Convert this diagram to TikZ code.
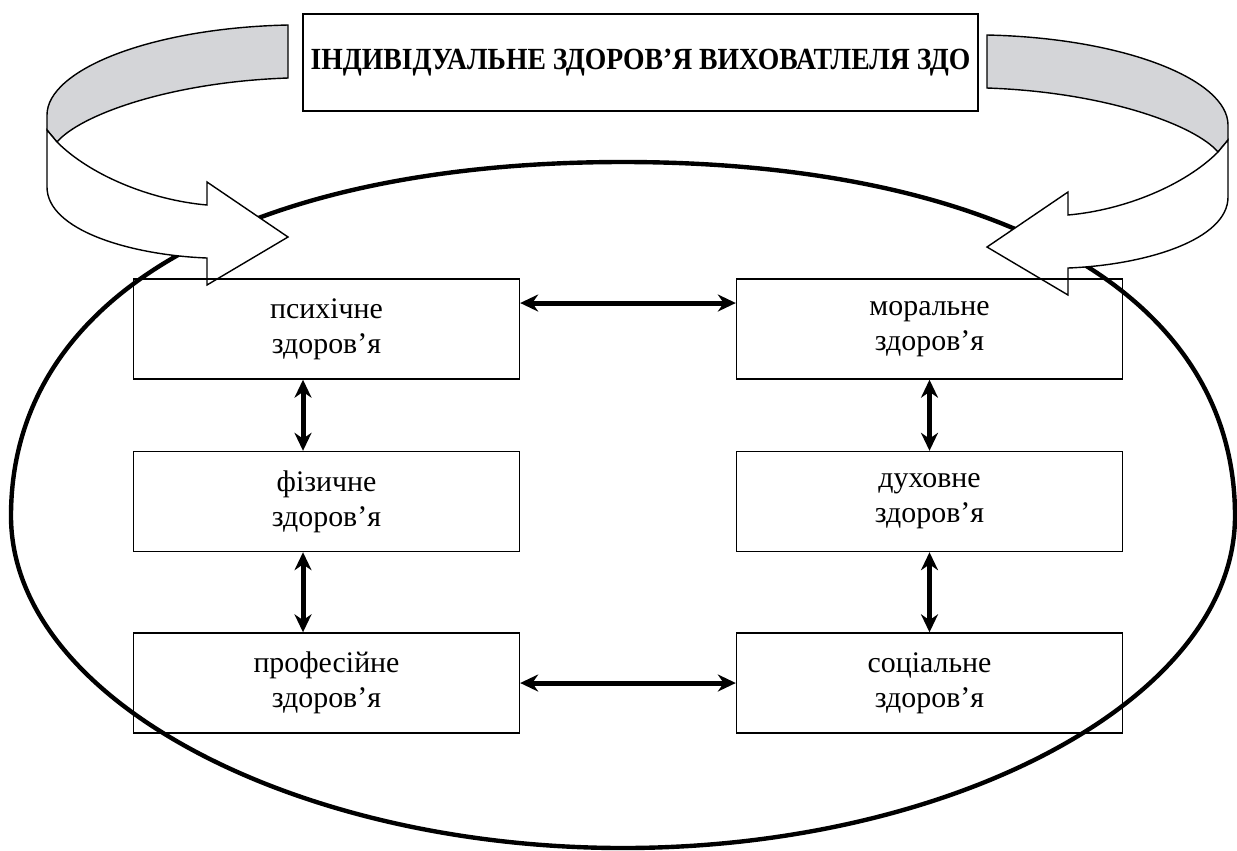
\documentclass[tikz,border=0pt]{standalone}
\usepackage{fontspec}
\setmainfont{Liberation Serif}
\newfontfamily\titlefont[FakeStretch=0.9]{Liberation Serif}
\usetikzlibrary{arrows.meta}
\definecolor{bandgray}{RGB}{212,213,216}
\newcommand{\twist}{%
  \draw[line width=0.8pt, fill=bandgray] (288,25) .. controls (150,28) and (47,70) .. (47,115)
    -- (47,130) -- (57,142) .. controls (80,115) and (170,82) .. (288,78) -- cycle;
  \draw[line width=0.8pt, fill=white] (47,130) -- (47,187) .. controls (47,230) and (130,255) .. (207,258)
    -- (207,285) -- (288,237) -- (207,182) -- (207,205) .. controls (150,200) and (90,175) .. (57,142) -- cycle;}

\begin{document}
\begin{tikzpicture}[x=0.02cm, y=-0.02cm, font=\fontsize{17}{20}\selectfont,
    hbox/.style={draw, line width=0.8pt, minimum width=7.72cm, minimum height=2cm, align=center, inner sep=0pt},
    dbl/.style={{Stealth[length=0.36cm,width=0.34cm]}-{Stealth[length=0.36cm,width=0.34cm]}, line width=0.1cm}]
  \useasboundingbox (0,0) rectangle (1237,850);
  \draw[line width=2.5pt] (11,516) .. controls (11,285) and (265,162) .. (623,162)
    .. controls (981,162) and (1235,285) .. (1235,516)
    .. controls (1235,700) and (950,848) .. (623,848)
    .. controls (296,848) and (11,700) .. (11,516) -- cycle;
  \twist
  \begin{scope}[shift={(1275,10)}, xscale=-1]
    \twist
  \end{scope}

  \node[hbox, line width=1.1pt, minimum width=13.5cm, minimum height=1.94cm] (title) at (640.5,62.5)
    {\fontsize{17.5}{20}\titlefont\bfseries ІНДИВІДУАЛЬНЕ ЗДОРОВ’Я ВИХОВАТЛЕЛЯ ЗДО};

  \node[hbox] (psy) at (326.5,329) {психічне\\здоров’я};
  \node[hbox] (fiz) at (326.5,501.5) {фізичне\\здоров’я};
  \node[hbox] (prof) at (326.5,683) {професійне\\здоров’я};
  \node[hbox] (mor) at (929.5,329) {моральне\\здоров’я};
  \node[hbox] (duh) at (929.5,501.5) {духовне\\здоров’я};
  \node[hbox] (soc) at (929.5,683) {соціальне\\здоров’я};

  \draw[dbl] ([yshift=0.52cm]psy.east) -- ([yshift=0.52cm]mor.west);
  \draw[dbl] (prof.east) -- (soc.west);
  \draw[dbl] ([xshift=-0.47cm]psy.south) -- ([xshift=-0.47cm]fiz.north);
  \draw[dbl] ([xshift=-0.47cm]fiz.south) -- ([xshift=-0.47cm]prof.north);
  \draw[dbl] (mor.south) -- (duh.north);
  \draw[dbl] (duh.south) -- (soc.north);
\end{tikzpicture}
\end{document}
